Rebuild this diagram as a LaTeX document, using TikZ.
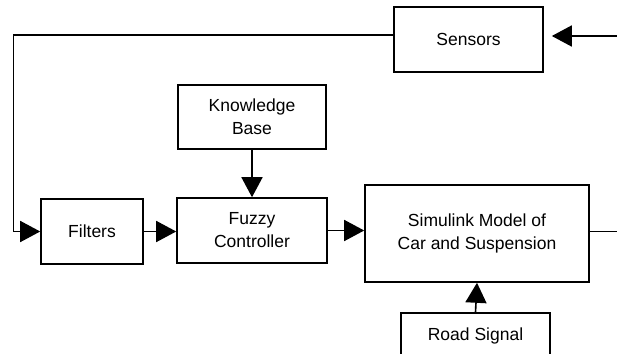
\documentclass[tikz,border=0pt]{standalone}
\usepackage{fontspec}
\setmainfont{Liberation Sans}
\usetikzlibrary{arrows.meta}

\begin{document}
\begin{tikzpicture}[x=1pt,y=-1pt,
  block/.style={draw,line width=1.6pt,inner sep=0pt,minimum width=149pt,minimum height=65pt,
    align=center,font=\fontsize{17.5}{23}\selectfont},
  line/.style={line width=1.6pt},
  arr/.style={line width=1.6pt,-{Triangle[length=20pt,width=21pt]}}]
\useasboundingbox (0,0) rectangle (617,353);
\clip (0,0) rectangle (617,353);

% 方框
\node[block] (sensors) at (468.5,39.5) {Sensors};
\node[block,minimum width=148pt,minimum height=64pt] (kb) at (252,117) {Knowledge\\Base};
\node[block,minimum width=102pt] (filters) at (92,231.5) {Filters};
\node[block,minimum width=150pt] (fuzzy) at (252,230.5) {Fuzzy\\Controller};
\node[block,minimum width=224pt,minimum height=97pt] (model) at (477,233.5) {Simulink Model of\\Car and Suspension};
% 路面信号框在图的下边缘被截断
\node[block,minimum height=46pt] (road) at (475.5,336) {Road Signal};

% 外部端点
\coordinate (sensin) at (617,36);
\coordinate (fb) at (13.5,35);
\coordinate (modelout) at (617,231.5);

% 反馈回路
\draw[arr] (sensin) -- ([xshift=8pt]sensors.east |- sensin);
\draw[arr] ([yshift=4.5pt]sensors.west) -- (fb) |- (filters.west);
% 前向通路
\draw[arr] (filters.east) -- (filters.east -| fuzzy.west);
\draw[arr] (kb.south) -- (fuzzy.north);
\draw[arr] (fuzzy.east) -- (fuzzy.east -| model.west);
\draw[line] (model.east |- modelout) -- (modelout);
\draw[arr] (road.north) -- (model.south);

\end{tikzpicture}
\end{document}
